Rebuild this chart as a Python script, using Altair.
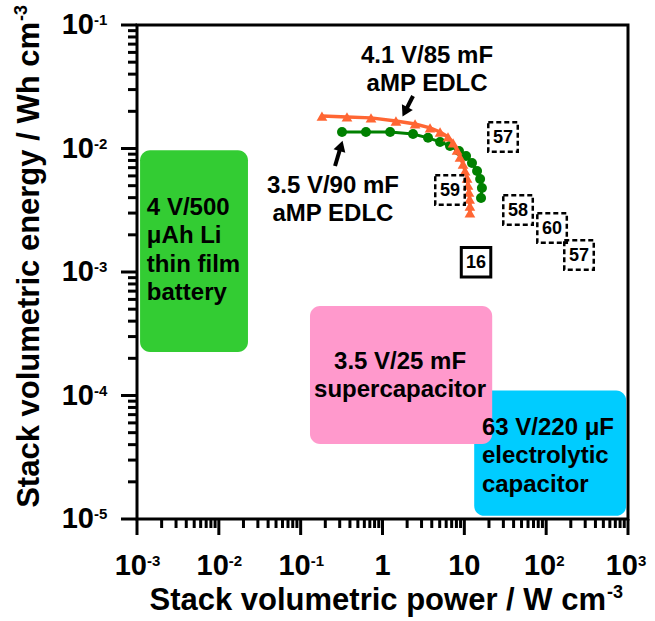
import altair as alt
import pandas as pd

# ---------------- data ----------------
# 4.1 V / 85 mF aMP EDLC (orange triangles)
edlc41_power = [0.182, 0.368, 0.724, 1.46, 2.50, 3.81, 5.05, 6.32, 7.28, 8.14,
                8.85, 9.64, 10.2, 10.8, 11.1, 11.4, 11.6, 11.7, 11.7]
edlc41_energy = [0.0183, 0.0180, 0.0177, 0.0167, 0.0158, 0.0147, 0.0136, 0.0124,
                 0.0111, 0.00972, 0.00853, 0.00749, 0.00658, 0.00577, 0.00506,
                 0.00444, 0.00390, 0.00342, 0.00301]
# 3.5 V / 90 mF aMP EDLC (green circles)
edlc35_power = [0.320, 0.628, 1.24, 2.36, 3.60, 5.05, 6.68, 8.61, 10.5, 12.4,
                14.3, 15.6, 16.4, 16.0]
edlc35_energy = [0.0136, 0.0136, 0.0136, 0.0131, 0.0122, 0.0113, 0.0105, 0.00955,
                 0.00870, 0.00763, 0.00658, 0.00566, 0.00479, 0.00397]

# literature reference boxes
ref_labels = ["57", "59", "58", "60", "57", "16"]
ref_power = [29.7, 6.68, 45.3, 118, 252, 13.9]
ref_energy = [0.0124, 0.00461, 0.00318, 0.00227, 0.00137, 0.00120]
ref_dashed = [True, True, True, True, True, False]

# device regions
box_names = ["battery", "electrolytic", "supercapacitor"]
box_x0 = [1.09e-3, 13.2, 0.13]
box_x1 = [0.0227, 950, 21.9]
box_y0 = [2.25e-4, 1.06e-5, 4.05e-5]
box_y1 = [9.7e-3, 1.1e-4, 5.3e-4]
box_colors = ["#33CC33", "#00CCFF", "#FF99CC"]

# text blocks (anchor = first line)
block_text = ["4 V/500\nμAh Li\nthin film\nbattery",
              "63 V/220 μF\nelectrolytic\ncapacitor",
              "3.5 V/25 mF\nsupercapacitor",
              "4.1 V/85 mF\naMP EDLC",
              "3.5 V/90 mF\naMP EDLC"]
block_x = [1.32e-3, 16.4, 1.64, 3.50, 0.248]
block_y = [3.30e-3, 5.46e-5, 1.87e-4, 0.0566, 4.97e-3]
block_align = ["left", "left", "center", "center", "center"]

# arrows
arrow_x0 = [2.36, 0.263]
arrow_y0 = [0.0266, 0.00721]
arrow_x1 = [1.88, 0.311]
arrow_y1 = [0.0198, 0.0105]
arrow_angle = [207, 17]

# axes
x_major = [1e-3, 1e-2, 1e-1, 1, 10, 100, 1000]
x_base = ["10", "10", "10", "1", "10", "10", "10"]
x_sup = ["-3", "-2", "-1", "", "", "2", "3"]
y_major = [1e-5, 1e-4, 1e-3, 1e-2, 1e-1]
y_base = ["10", "10", "10", "10", "10"]
y_sup = ["-5", "-4", "-3", "-2", "-1"]
minor_mult = [2, 3, 4, 5, 6, 7, 8, 9]
x_decades = [1e-3, 1e-2, 1e-1, 1, 10, 100]
y_decades = [1e-5, 1e-4, 1e-3, 1e-2]
x_title = "Stack volumetric power / W cm"
y_title = "Stack volumetric energy / Wh cm"
title_sup = "-3"

# ---------------- tables ----------------
W, H = 491, 494
FONT = "Liberation Sans"
xs = alt.Scale(type="log", domain=[1e-3, 1e3], nice=False)
ys = alt.Scale(type="log", domain=[1e-5, 1e-1], nice=False)


def X(f):
    return alt.X(f, type="quantitative", scale=xs, axis=None)


def Y(f):
    return alt.Y(f, type="quantitative", scale=ys, axis=None)


c41 = pd.DataFrame({"p": edlc41_power, "e": edlc41_energy, "i": range(len(edlc41_power))})
c35 = pd.DataFrame({"p": edlc35_power, "e": edlc35_energy, "i": range(len(edlc35_power))})
refs = pd.DataFrame({"lab": ref_labels, "p": ref_power, "e": ref_energy, "d": ref_dashed})
boxes_df = pd.DataFrame({"name": box_names, "x0": box_x0, "x1": box_x1, "y0": box_y0, "y1": box_y1})
blocks = pd.DataFrame({"t": block_text, "x": block_x, "y": block_y, "a": block_align})
arrows = pd.DataFrame({"x0": arrow_x0, "y0": arrow_y0, "x1": arrow_x1, "y1": arrow_y1, "ang": arrow_angle})
xmaj = pd.DataFrame({"v": x_major, "b": x_base, "s": x_sup})
ymaj = pd.DataFrame({"v": y_major, "b": y_base, "s": y_sup})
xmin = pd.DataFrame({"v": [m * d for d in x_decades for m in minor_mult]})
ymin = pd.DataFrame({"v": [m * d for d in y_decades for m in minor_mult]})

# ---------------- layers ----------------
box_layer = alt.Chart(boxes_df).mark_rect(cornerRadius=10).encode(
    x=X("x0"), x2="x1", y=Y("y0"), y2="y1",
    color=alt.Color("name:N", scale=alt.Scale(domain=box_names, range=box_colors), legend=None),
)

txt = dict(font=FONT, fontWeight="bold", fontSize=24, lineBreak="\n", lineHeight=28.5,
           baseline="middle", color="black")
block_left = alt.Chart(blocks).transform_filter("datum.a == 'left'").mark_text(align="left", **txt).encode(
    x=X("x"), y=Y("y"), text="t:N")
block_center = alt.Chart(blocks).transform_filter("datum.a == 'center'").mark_text(align="center", **txt).encode(
    x=X("x"), y=Y("y"), text="t:N")

line35 = alt.Chart(c35).mark_line(color="#008000", strokeWidth=3).encode(x=X("p"), y=Y("e"), order="i:Q")
pts35 = alt.Chart(c35).mark_point(shape="circle", filled=True, size=100, color="#008000", opacity=1).encode(
    x=X("p"), y=Y("e"))
line41 = alt.Chart(c41).mark_line(color="#FF6633", strokeWidth=3.5).encode(x=X("p"), y=Y("e"), order="i:Q")
pts41 = alt.Chart(c41).mark_point(shape="triangle-up", filled=True, size=115, color="#FF6633", opacity=1).encode(
    x=X("p"), y=Y("e"))

ref_dash = alt.Chart(refs).transform_filter("datum.d").mark_point(
    shape="square", size=870, filled=False, color="black", strokeWidth=2.5, strokeDash=[5, 3], opacity=1
).encode(x=X("p"), y=Y("e"))
ref_solid = alt.Chart(refs).transform_filter("!datum.d").mark_point(
    shape="square", size=870, filled=False, color="black", strokeWidth=3, opacity=1
).encode(x=X("p"), y=Y("e"))
ref_text = alt.Chart(refs).mark_text(font=FONT, fontWeight="bold", fontSize=18, baseline="middle",
                                     align="center", color="black", dy=1).encode(
    x=X("p"), y=Y("e"), text="lab:N")

arrow_rule = alt.Chart(arrows).mark_rule(color="black", strokeWidth=4).encode(
    x=X("x0"), y=Y("y0"), x2="x1", y2="y1")
arrow_head = alt.Chart(arrows).mark_point(shape="triangle-up", filled=True, size=150, color="black", opacity=1).encode(
    x=X("x1"), y=Y("y1"), angle=alt.Angle("ang:Q", scale=None))

# ticks
ytick_major = alt.Chart(ymaj).mark_rule(color="black", strokeWidth=3).encode(
    y=Y("v"), x=alt.value(-16), x2=alt.value(0))
ytick_minor = alt.Chart(ymin).mark_rule(color="black", strokeWidth=3).encode(
    y=Y("v"), x=alt.value(-9), x2=alt.value(0))
xtick_major = alt.Chart(xmaj).mark_rule(color="black", strokeWidth=3).encode(
    x=X("v"), y=alt.value(H), y2=alt.value(H + 16))
xtick_minor = alt.Chart(xmin).mark_rule(color="black", strokeWidth=3).encode(
    x=X("v"), y=alt.value(H), y2=alt.value(H + 9))

lab = dict(font=FONT, fontWeight="bold", baseline="middle", color="black")
xlab_pow = alt.Chart(xmaj).transform_filter("datum.s != ''").mark_text(align="right", dx=10, fontSize=29, **lab).encode(
    x=X("v"), y=alt.value(H + 47), text="b:N")
xlab_sup = alt.Chart(xmaj).transform_filter("datum.s != ''").mark_text(align="left", dx=10, fontSize=15, **lab).encode(
    x=X("v"), y=alt.value(H + 42), text="s:N")
xlab_plain = alt.Chart(xmaj).transform_filter("datum.s == ''").mark_text(align="center", fontSize=29, **lab).encode(
    x=X("v"), y=alt.value(H + 47), text="b:N")
ylab_pow = alt.Chart(ymaj).mark_text(align="right", fontSize=29, **lab).encode(
    y=Y("v"), x=alt.value(-43), text="b:N")
ylab_sup = alt.Chart(ymaj).mark_text(align="left", dy=-5, fontSize=15, **lab).encode(
    y=Y("v"), x=alt.value(-43), text="s:N")

tdf = pd.DataFrame({"xt": [x_title], "yt": [y_title], "s": [title_sup]})
xtitle = alt.Chart(tdf).mark_text(align="right", fontSize=31, **lab).encode(
    x=alt.value(469), y=alt.value(H + 82), text="xt:N")
xtitle_sup = alt.Chart(tdf).mark_text(align="left", fontSize=18, **lab).encode(
    x=alt.value(470), y=alt.value(H + 74), text="s:N")
ytitle = alt.Chart(tdf).mark_text(align="right", angle=270, fontSize=31, **lab).encode(
    x=alt.value(-107), y=alt.value(-3), text="yt:N")
ytitle_sup = alt.Chart(tdf).mark_text(align="left", angle=270, fontSize=18, **lab).encode(
    x=alt.value(-115), y=alt.value(-4), text="s:N")

chart = alt.layer(
    box_layer, block_left, block_center,
    line35, pts35, line41, pts41,
    ref_dash, ref_solid, ref_text,
    arrow_rule, arrow_head,
    ytick_major, ytick_minor, xtick_major, xtick_minor,
    xlab_pow, xlab_sup, xlab_plain, ylab_pow, ylab_sup,
    xtitle, xtitle_sup, ytitle, ytitle_sup,
).properties(
    width=W, height=H,
    padding={"left": 137, "top": 25, "right": 27, "bottom": 102},
    autosize=alt.AutoSizeParams(type="none"),
    background="white",
).configure_view(stroke="black", strokeWidth=3)

chart.save("out.html", embed_options={"renderer": "svg", "actions": False})
